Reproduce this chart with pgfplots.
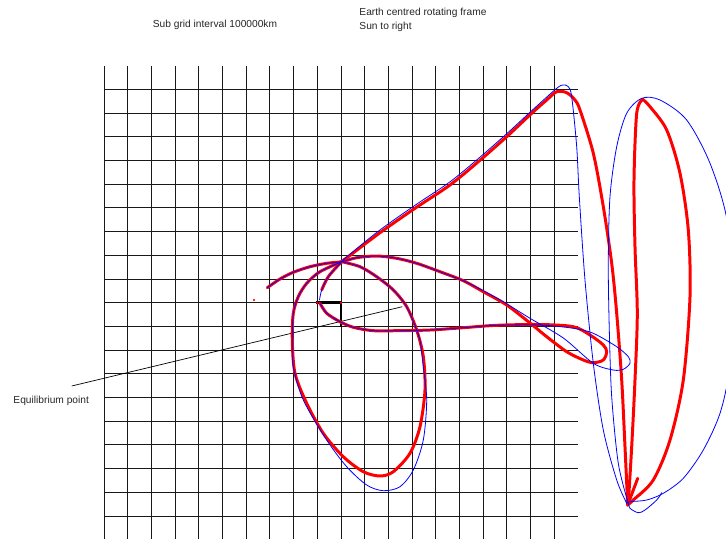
\documentclass[border=0pt]{standalone}
\usepackage{fontspec}
\setmainfont{Liberation Sans}
\usepackage{pgfplots}
\pgfplotsset{compat=1.18}

% units: grid cells of 100000 km, Earth at the origin
\pgfplotsset{
  gridline/.style={black!90, line width=0.9bp},
  redtraj/.style={red, line width=3pt, smooth, tension=0.5, line cap=round, line join=round},
  bluetraj/.style={blue, line width=0.8pt, smooth, tension=0.5, line cap=round, line join=round},
}

\begin{document}
\begin{tikzpicture}
\begin{axis}[
    scale only axis,
    width=726bp, height=539bp,
    xmin=-13.388, xmax=17.245,
    ymin=-9.970, ymax=12.772,
    axis line style={draw=none},
    xtick=\empty, ytick=\empty,
    clip mode=individual,
    font=\fontsize{10.2bp}{13.3bp}\selectfont,
]
% sub grid
\pgfplotsinvokeforeach{-9,...,10}{
  \addplot[gridline] coordinates {(#1,-10.5) (#1,10)};
}
\pgfplotsinvokeforeach{-10,...,9}{
  \addplot[gridline] coordinates {(-9,#1) (11,#1)};
}

% equilibrium point pointer
\addplot[black, line width=0.7pt] coordinates {(-10.363,-3.515) (3.586,-0.169)};
% bold marker at Earth
\addplot[black, line width=3pt, line join=miter] coordinates {(-0.05,0) (1,0) (1,-1.04)};

% red trajectory
\addplot[redtraj] coordinates {
  (-2.110,0.633) (-1.574,1.000) (-1.013,1.283) (-0.308,1.519) (0.397,1.662)
  (1.030,1.730) (1.662,1.899) (2.506,1.970) (3.350,1.873) (4.194,1.662)
  (5.177,1.308) (6.160,0.928) (7.004,0.464) (7.992,-0.097) (8.975,-0.857)
  (9.679,-1.435) (10.523,-2.068) (11.224,-2.418) (11.646,-2.532) (12.068,-2.418)
  (12.211,-2.068) (12.068,-1.785) (11.506,-1.363) (10.802,-1.013) (9.397,-0.920)
  (7.570,-0.954) (6.160,-1.055) (4.755,-1.152) (3.350,-1.181) (2.363,-1.181)
  (1.519,-1.038) (0.958,-0.802) (0.397,-0.447) (0.114,-0.025)
};
\addplot[redtraj] coordinates {
  (0.186,0.536) (0.464,1.097) (1.030,1.730) (1.308,1.941) (2.646,2.954)
  (4.122,3.983) (5.599,4.966) (6.793,5.949) (7.992,7.004) (9.046,7.992)
  (9.679,8.553) (10.101,8.903) (10.523,8.861) (10.873,8.553) (11.084,8.131)
  (11.646,6.304) (12.068,4.051) (12.422,1.662) (12.633,-0.447) (12.844,-3.262)
  (12.983,-6.076) (13.097,-8.536)
};
\addplot[redtraj] coordinates {
  (13.097,-8.536) (13.333,-8.325) (14.177,-7.481) (14.882,-5.793) (15.443,-3.262)
  (15.726,0.253) (15.654,3.068) (15.304,5.460) (14.743,7.287) (14.038,8.270)
  (13.730,8.582)
};
\addplot[redtraj] coordinates {
  (13.730,8.582) (13.477,7.992) (13.363,5.177) (13.405,2.363) (13.502,-0.447)
  (13.405,-3.262) (13.266,-6.076) (13.122,-8.464)
};
\addplot[redtraj] coordinates {(13.097,-8.536) (13.519,-7.409)};
\addplot[redtraj] coordinates {
  (1.030,1.730) (1.802,1.519) (2.506,1.097) (3.207,0.536) (3.772,-0.169)
  (4.194,-1.152) (4.473,-2.278) (4.544,-3.684) (4.333,-5.232) (3.911,-6.354)
  (3.207,-7.131) (2.646,-7.312) (1.941,-7.131) (1.097,-6.498) (0.253,-5.511)
  (-0.447,-4.245) (-0.941,-2.979) (-1.055,-1.574) (-1.013,-0.447) (-0.802,0.253)
  (-0.447,0.819) (0.114,1.308) (1.030,1.730)
};
\addplot[red, only marks, mark=*, mark size=0.9pt] coordinates {(-2.671,0.114) (1,0) (0,0)};

% blue trajectory
\addplot[bluetraj] coordinates {
  (-2.110,0.633) (-1.574,1.000) (-1.013,1.283) (-0.308,1.519) (0.397,1.662)
  (1.030,1.730) (1.662,1.899) (2.506,1.970) (3.350,1.873) (4.194,1.662)
  (5.177,1.308) (6.160,0.928) (6.865,0.578) (7.848,0.042) (8.975,-0.658)
  (10.380,-1.489) (11.646,-2.557) (12.489,-2.840) (12.911,-2.810) (13.194,-2.557)
  (13.122,-2.278) (12.633,-1.857) (11.646,-1.291) (10.802,-1.080) (9.397,-0.941)
  (7.570,-0.954) (6.160,-1.055) (4.755,-1.152) (3.350,-1.181) (2.363,-1.181)
  (1.519,-1.038) (0.958,-0.802) (0.397,-0.447) (0.114,-0.025)
};
\addplot[bluetraj] coordinates {
  (0.093,0.114) (0.186,0.536) (0.464,1.097) (1.030,1.730) (1.308,1.990)
  (2.646,3.070) (4.122,4.110) (5.599,5.100) (6.793,6.080) (7.992,7.130)
  (9.046,8.100) (10.101,9.046) (10.380,9.186) (10.591,9.114) (10.734,8.692)
  (10.945,6.582) (11.055,4.473) (11.295,0.958) (11.646,-2.557) (12.068,-5.371)
  (12.633,-7.481) (13.055,-8.464)
};
\addplot[bluetraj] coordinates {
  (13.055,-8.464) (13.194,-8.397) (13.899,-8.325) (14.599,-8.042) (15.443,-7.409)
  (16.287,-6.215) (16.992,-4.667) (17.371,-2.840) (17.498,0.325) (17.287,3.489)
  (16.570,5.882) (15.586,7.709) (14.460,8.553) (13.688,8.624) (13.055,7.992)
  (12.633,6.582) (12.350,4.473) (12.278,1.662) (12.321,-1.152) (12.422,-3.966)
  (12.700,-6.776) (13.122,-8.464)
};
\addplot[bluetraj] coordinates {
  (13.122,-8.464) (13.194,-8.675) (13.544,-8.861) (13.827,-8.747) (14.321,-8.325)
  (14.532,-8.017)
};
\addplot[bluetraj] coordinates {
  (1.030,1.730) (1.802,1.519) (2.506,1.097) (3.207,0.536) (3.772,-0.169)
  (4.194,-1.152) (4.333,-1.574) (4.473,-2.700) (4.616,-4.105) (4.473,-5.793)
  (4.051,-7.059) (3.489,-7.764) (2.785,-7.932) (2.084,-7.692) (1.241,-6.920)
  (0.397,-5.793) (-0.591,-4.105) (-1.013,-2.700) (-1.055,-1.574) (-1.013,-0.447)
  (-0.802,0.253) (-0.447,0.819) (0.114,1.308) (1.030,1.730)
};

% captions
\node[anchor=base west, inner sep=0pt, black!85] at (axis cs:-6.945,11.603) {Sub grid interval 100000km};
\node[anchor=base west, inner sep=0pt, black!85] at (axis cs:1.772,12.097) {Earth centred rotating frame};
\node[anchor=base west, inner sep=0pt, black!85] at (axis cs:1.772,11.536) {Sun to right};
\node[anchor=base west, inner sep=0pt, black!85] at (axis cs:-12.827,-4.245) {Equilibrium point};
\end{axis}
\end{tikzpicture}
\end{document}
